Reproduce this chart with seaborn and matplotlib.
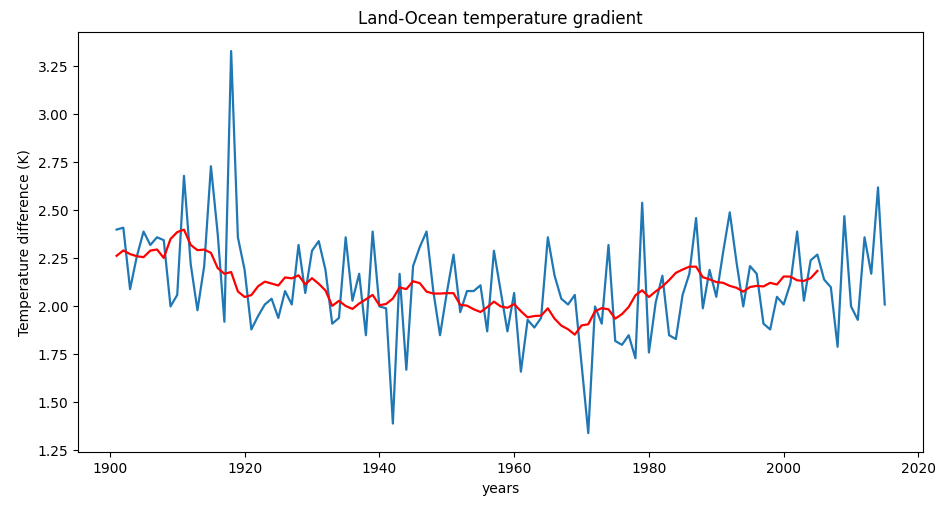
import numpy as np
import pandas as pd
import seaborn as sns
import matplotlib
matplotlib.use("Agg")
import matplotlib.pyplot as plt

# yearly land-ocean temperature difference (K)
years = list(range(1901, 2016))
temp_diff = [
    2.40, 2.41, 2.09, 2.26, 2.39, 2.32, 2.36, 2.345, 2.00, 2.06,   # 1901-1910
    2.68, 2.22, 1.98, 2.21, 2.73, 2.38, 1.92, 3.33, 2.36, 2.19,    # 1911-1920
    1.88, 1.95, 2.01, 2.04, 1.94, 2.08, 2.01, 2.32, 2.07, 2.29,    # 1921-1930
    2.34, 2.19, 1.91, 1.94, 2.36, 2.03, 2.17, 1.85, 2.39, 2.00,    # 1931-1940
    1.99, 1.39, 2.17, 1.67, 2.21, 2.31, 2.39, 2.08, 1.85, 2.07,    # 1941-1950
    2.27, 1.97, 2.08, 2.08, 2.11, 1.87, 2.29, 2.08, 1.87, 2.07,    # 1951-1960
    1.66, 1.93, 1.89, 1.94, 2.36, 2.16, 2.04, 2.01, 2.06, 1.70,    # 1961-1970
    1.34, 2.00, 1.91, 2.32, 1.82, 1.80, 1.85, 1.73, 2.54, 1.76,    # 1971-1980
    2.02, 2.16, 1.85, 1.83, 2.06, 2.17, 2.46, 1.99, 2.19, 2.05,    # 1981-1990
    2.28, 2.49, 2.23, 2.00, 2.21, 2.17, 1.91, 1.88, 2.05, 2.01,    # 1991-2000
    2.12, 2.39, 2.03, 2.24, 2.27, 2.14, 2.10, 1.79, 2.47, 2.00,    # 2001-2010
    1.93, 2.36, 2.17, 2.62, 2.01,                                  # 2011-2015
]
window = 10

df = pd.DataFrame({"year": years, "diff": temp_diff})

# 10-year running mean, stamped at the first year of each window
smooth = df["diff"].rolling(window).mean().shift(-(window - 1))
smooth_df = pd.DataFrame({"year": years[:-window], "diff": smooth.iloc[:-window].values})

fig, ax = plt.subplots(figsize=(9.42, 5.07), dpi=100)
fig.subplots_adjust(left=0.083, right=0.980, top=0.937, bottom=0.108)

sns.lineplot(data=df, x="year", y="diff", color="tab:blue", linewidth=1.6, ax=ax)
sns.lineplot(data=smooth_df, x="year", y="diff", color="red", linewidth=1.6, ax=ax)

ax.set_title("Land-Ocean temperature gradient")
ax.set_xlabel("years")
ax.set_ylabel("Temperature difference (K)")

plt.savefig("out.png")
plt.close()
